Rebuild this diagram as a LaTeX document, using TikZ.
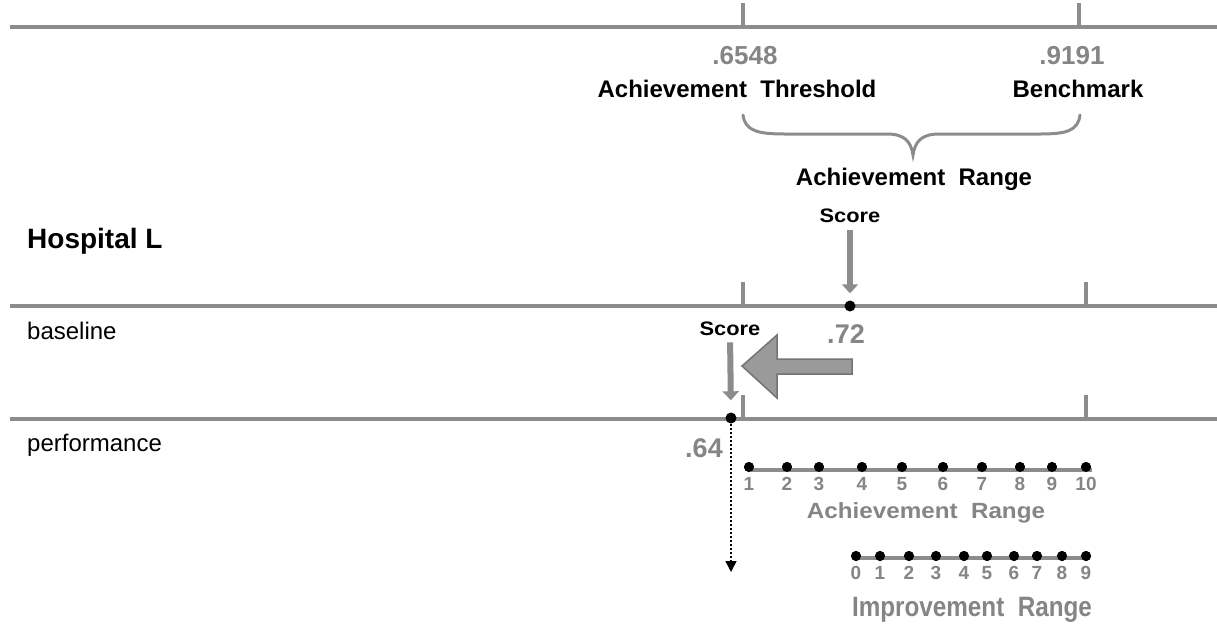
\documentclass[tikz,border=0pt]{standalone}
\usepackage{fontspec}
\setmainfont{Liberation Sans}
\usetikzlibrary{arrows.meta}
\definecolor{linegray}{HTML}{8C8C8C}
\definecolor{textgray}{HTML}{858585}
\definecolor{arrowfill}{HTML}{9A9A9A}
\definecolor{arrowedge}{HTML}{737373}
\begin{document}
\begin{tikzpicture}[x=1pt,y=-1pt,
  axisline/.style={draw=linegray,line width=4.5pt},
  tickmark/.style={draw=linegray,line width=3.5pt},
  txt/.style={inner sep=0pt,anchor=base},
  blk/.style={txt,font=\fontsize{24}{28}\selectfont\bfseries},
  reg/.style={txt,anchor=base west,font=\fontsize{24}{28}\selectfont},
  gnum/.style={txt,text=textgray,font=\fontsize{26}{30}\selectfont\bfseries},
  snum/.style={txt,text=textgray,font=\fontsize{19}{21}\selectfont\bfseries},
  grng/.style={txt,text=textgray,font=\fontsize{22}{26}\selectfont\bfseries},
  scoretxt/.style={txt,font=\fontsize{19.5}{22}\selectfont\bfseries},
  dotnode/.style={circle,fill=black,inner sep=0pt,minimum size=11pt},
  sdot/.style={circle,fill=black,inner sep=0pt,minimum size=10pt},
  scorearr/.style={draw=linegray,line width=6pt,-{Triangle[width=16pt,length=9pt]}},
  scaleline/.style={draw=linegray,line width=3.5pt},
  bracestyle/.style={draw=linegray,line width=3pt,line cap=round},
]
\useasboundingbox (0,0) rectangle (1217,625);

% main axes
\coordinate (t0) at (10,27);   \coordinate (t1) at (1217,27);
\coordinate (b0) at (10,306);  \coordinate (b1) at (1217,306);
\coordinate (p0) at (10,419);  \coordinate (p1) at (1217,419);
\draw[axisline] (t0) -- (t1);
\draw[axisline] (b0) -- (b1);
\draw[axisline] (p0) -- (p1);

% ticks
\coordinate (ta) at (743,3);   \coordinate (tab) at (743,27);
\coordinate (tb) at (1079,3);  \coordinate (tbb) at (1079,27);
\coordinate (ba) at (743,282); \coordinate (bab) at (743,306);
\coordinate (bb) at (1086,282);\coordinate (bbb) at (1086,306);
\coordinate (pa) at (743,395); \coordinate (pab) at (743,419);
\coordinate (pb) at (1086,395);\coordinate (pbb) at (1086,419);
\draw[tickmark] (ta) -- (tab);
\draw[tickmark] (tb) -- (tbb);
\draw[tickmark] (ba) -- (bab);
\draw[tickmark] (bb) -- (bbb);
\draw[tickmark] (pa) -- (pab);
\draw[tickmark] (pb) -- (pbb);

% top labels
\node[gnum] (v1) at (745,64) {.6548};
\node[gnum] (v2) at (1072,64) {.9191};
\node[blk] (athr) at (737,97) {Achievement\ \ Threshold};
\node[blk] (bm) at (1078,97) {Benchmark};

% brace
\coordinate (brL) at (743,115);
\coordinate (brR) at (1080,115);
\coordinate (brT) at (913,155);
\draw[bracestyle] (brL) .. controls (745,131) and (758,134) .. (785,134)
  -- (887,134) .. controls (905,134) and (911,142) .. (brT)
  .. controls (915,142) and (921,134) .. (939,134)
  -- (1040,134) .. controls (1066,134) and (1078,131) .. (brR);
\node[blk] (arng) at (914,185) {Achievement\ \ Range};

% row labels
\node[txt,anchor=base west,font=\fontsize{28}{32}\selectfont\bfseries] (hosp) at (27,248) {Hospital L};
\node[reg] (base) at (27,339) {baseline};
\node[reg] (perf) at (27,451) {performance};

% baseline score
\node[dotnode] (d1) at (850,306) {};
\node[scoretxt] (s1) at (850,222) {\scalebox{1.12}[1]{Score}};
\draw[scorearr,shorten <=8pt,shorten >=7pt] (s1.south) -- (d1.north);
\node[txt,text=textgray,font=\fontsize{27}{30}\selectfont\bfseries] (v3) at (846,343) {.72};

% performance score
\node[dotnode] (d2) at (731,418) {};
\node[scoretxt] (s2) at (730,335) {\scalebox{1.12}[1]{Score}};
\draw[scorearr,shorten <=7pt,shorten >=12pt] (s2.south) -- (d2.north);
\node[txt,text=textgray,font=\fontsize{27}{30}\selectfont\bfseries] (v4) at (704,457) {.64};
\coordinate (dend) at (731,572);
\draw[black,line width=1.5pt,dash pattern=on 2pt off 2pt,-{Triangle[width=11pt,length=11pt]}] (d2.south) -- (dend);

% block arrow
\draw[fill=arrowfill,draw=arrowedge,line width=1.5pt,line join=miter]
  (742,366) -- (777,335) -- (777,359) -- (852,359) -- (852,374) -- (777,374) -- (777,398) -- cycle;

% achievement scale
\foreach \n/\x in {1/749,2/787,3/819,4/862,5/902,6/943,7/982,8/1020,9/1052,10/1086}{
  \node[sdot] (a\n) at (\x,467) {};
  \node[snum] (al\n) at (\x,490) {\n};
}
\draw[scaleline] ([yshift=-3pt]a1.center) -- ([yshift=-3pt,xshift=6pt]a10.center);
\foreach \n in {1,...,10}{ \node[sdot] at (a\n) {}; }
\node[grng] (garng) at (926,518) {\scalebox{1.1}[1]{Achievement\ \ Range}};

% improvement scale
\foreach \n/\x in {0/856,1/880,2/909,3/936,4/964,5/987,6/1014,7/1037,8/1062,9/1086}{
  \node[sdot] (i\n) at (\x,556) {};
  \node[snum] (il\n) at (\x,579) {\n};
}
\draw[scaleline] ([yshift=-2pt]i0.center) -- ([yshift=-2pt,xshift=4pt]i9.center);
\foreach \n in {0,...,9}{ \node[sdot] at (i\n) {}; }
\node[txt,text=textgray,font=\fontsize{25}{28}\selectfont\bfseries] (girng) at (972,616) {\scalebox{0.97}[1.12]{Improvement\ \ Range}};
\end{tikzpicture}
\end{document}
